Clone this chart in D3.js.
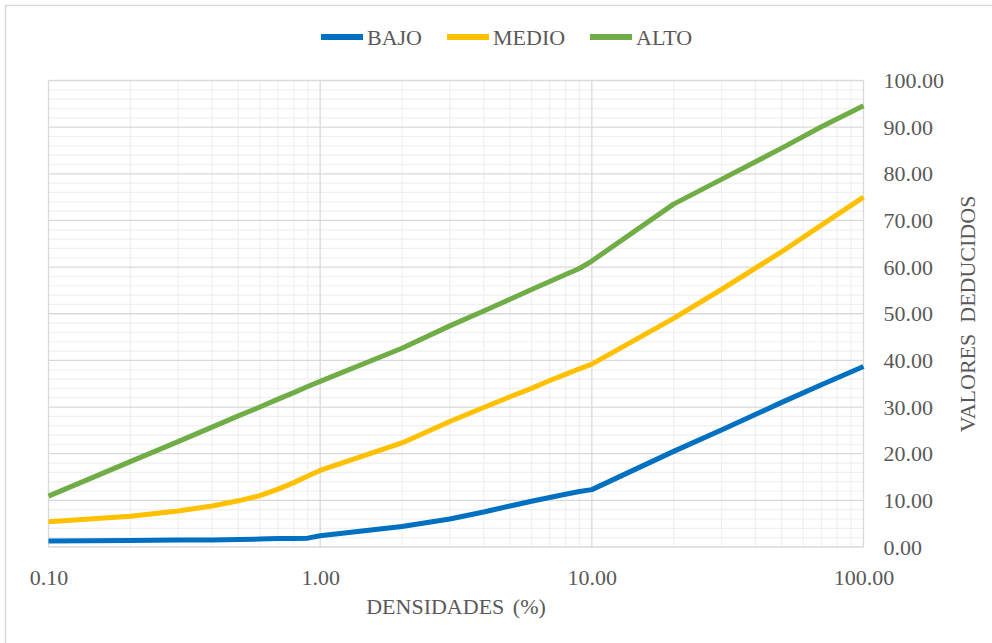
<!DOCTYPE html>
<html>
<head>
<meta charset="utf-8">
<script src="https://cdn.jsdelivr.net/npm/d3@7/dist/d3.min.js"></script>
<style>
  html, body { margin: 0; padding: 0; background: #ffffff; }
  svg { display: block; }
  text { font-family: "Liberation Serif", "Times New Roman", serif; fill: #595959; }
</style>
</head>
<body>
<svg id="chart" width="992" height="643"></svg>
<script>
// Densidad de la falla (%) — eje logarítmico
const densidades = [0.1, 0.2, 0.3, 0.4, 0.5, 0.6, 0.7, 0.8, 0.9, 1, 2, 3, 4, 5, 6, 7, 8, 9, 10, 20, 30, 50, 70, 100];

// Valores deducidos por nivel de severidad
const bajo  = [1.3, 1.4, 1.5, 1.5, 1.6, 1.7, 1.8, 1.8, 1.9, 2.4, 4.4, 6.0, 7.5, 8.8, 9.8, 10.6, 11.3, 11.9, 12.3, 20.5, 25.1, 31.0, 34.8, 38.7];
const medio = [5.4, 6.6, 7.7, 8.8, 9.9, 11.0, 12.4, 13.8, 15.2, 16.4, 22.3, 26.9, 29.9, 32.2, 34.0, 35.7, 37.0, 38.2, 39.2, 49.0, 55.2, 63.3, 69.0, 75.0];
const alto  = [10.9, 18.3, 22.6, 25.7, 28.1, 30.0, 31.7, 33.1, 34.4, 35.5, 42.6, 47.4, 50.6, 53.1, 55.2, 56.9, 58.4, 59.7, 61.3, 73.5, 78.8, 85.5, 90.1, 94.6];

const seriesNames  = ["BAJO", "MEDIO", "ALTO"];
const seriesColors = ["#0070C0", "#FFC000", "#70AD47"];
const seriesValues = [bajo, medio, alto];

const xTicks = [0.1, 1, 10, 100];
const yTicks = [0, 10, 20, 30, 40, 50, 60, 70, 80, 90, 100];

const svg = d3.select("#chart");

// marco exterior
svg.append("rect")
  .attr("x", 5.5).attr("y", 5.5)
  .attr("width", 990).attr("height", 640)
  .attr("fill", "#ffffff")
  .attr("stroke", "#d9d9d9").attr("stroke-width", 1.5);

const plot = { left: 48.5, right: 863.5, top: 80.5, bottom: 547 };

const x = d3.scaleLog().domain([0.1, 100]).range([plot.left, plot.right]);
const y = d3.scaleLinear().domain([0, 100]).range([plot.bottom, plot.top]);

// líneas de división secundarias
const minorX = [];
[0.1, 1, 10].forEach(d => { for (let k = 2; k <= 9; k++) minorX.push(+(d * k).toPrecision(3)); });
const minorY = d3.range(0, 101, 2).filter(v => v % 10 !== 0);

const grid = svg.append("g");
grid.selectAll("line.minor-x").data(minorX).join("line")
  .attr("x1", d => x(d)).attr("x2", d => x(d))
  .attr("y1", plot.top).attr("y2", plot.bottom)
  .attr("stroke", "#f0f0f0").attr("stroke-width", 1.2);
grid.selectAll("line.minor-y").data(minorY).join("line")
  .attr("x1", plot.left).attr("x2", plot.right)
  .attr("y1", d => y(d)).attr("y2", d => y(d))
  .attr("stroke", "#f0f0f0").attr("stroke-width", 1.2);

// líneas de división principales
grid.selectAll("line.major-x").data(xTicks).join("line")
  .attr("x1", d => x(d)).attr("x2", d => x(d))
  .attr("y1", plot.top).attr("y2", plot.bottom)
  .attr("stroke", "#d9d9d9").attr("stroke-width", 1.3);
grid.selectAll("line.major-y").data(yTicks).join("line")
  .attr("x1", plot.left).attr("x2", plot.right)
  .attr("y1", d => y(d)).attr("y2", d => y(d))
  .attr("stroke", "#d9d9d9").attr("stroke-width", 1.3);

// ejes
const fmt = d3.format(".2f");
const xAxis = svg.append("g")
  .attr("transform", `translate(0,${plot.bottom})`)
  .call(d3.axisBottom(x).tickValues(xTicks).tickFormat(fmt).tickSize(0).tickPadding(22));
xAxis.select(".domain").remove();
xAxis.selectAll("text")
  .style("font-family", "'Liberation Serif', 'Times New Roman', serif")
  .style("font-size", "22px").attr("fill", "#595959");

const yAxis = svg.append("g")
  .attr("transform", `translate(${plot.right},0)`)
  .call(d3.axisRight(y).tickValues(yTicks).tickFormat(fmt).tickSize(0).tickPadding(20));
yAxis.select(".domain").remove();
yAxis.selectAll("text")
  .style("font-family", "'Liberation Serif', 'Times New Roman', serif")
  .style("font-size", "22px").attr("fill", "#595959");

// curvas
const line = d3.line()
  .x((d, i) => x(densidades[i]))
  .y(d => y(d));

svg.append("g").selectAll("path").data(seriesValues).join("path")
  .attr("d", d => line(d))
  .attr("fill", "none")
  .attr("stroke", (d, i) => seriesColors[i])
  .attr("stroke-width", 5)
  .attr("stroke-linejoin", "round");

// títulos de ejes
svg.append("text")
  .attr("x", 456).attr("y", 614)
  .attr("text-anchor", "middle")
  .style("font-size", "22px")
  .style("word-spacing", "3px")
  .text("DENSIDADES (%)");

svg.append("text")
  .attr("transform", "translate(975,314) rotate(-90)")
  .attr("text-anchor", "middle")
  .style("font-size", "22px")
  .style("white-space", "pre")
  .attr("xml:space", "preserve")
  .text("VALORES  DEDUCIDOS");

// leyenda
const legendX = [321, 447, 590];
const legend = svg.append("g").selectAll("g").data(seriesNames).join("g")
  .attr("transform", (d, i) => `translate(${legendX[i]},37)`);
legend.append("line")
  .attr("x1", 0).attr("x2", 42).attr("y1", 0).attr("y2", 0)
  .attr("stroke", (d, i) => seriesColors[i]).attr("stroke-width", 6);
legend.append("text")
  .attr("x", 46).attr("y", 8)
  .style("font-size", "22px")
  .text(d => d);
</script>
</body>
</html>
